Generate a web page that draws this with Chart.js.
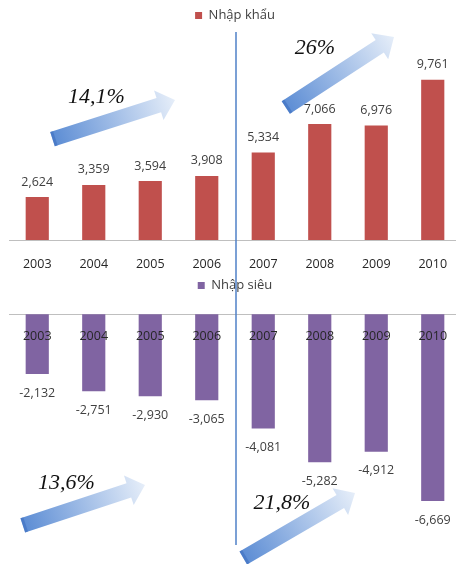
<!DOCTYPE html>
<html>
<head>
<meta charset="utf-8">
<script src="https://cdn.jsdelivr.net/npm/chart.js@4/dist/chart.umd.min.js"></script>
<style>
html, body { margin: 0; padding: 0; background: #fff; overflow: hidden; width: 456px; height: 564px; }
#top { position: absolute; left: 0; top: 0; }
#bottom { position: absolute; left: 0; top: 272px; }
</style>
</head>
<body>
<canvas id="top" width="466" height="291"></canvas>
<canvas id="bottom" width="466" height="292"></canvas>
<script>
const years = ["2003", "2004", "2005", "2006", "2007", "2008", "2009", "2010"];
const importValues = [2624, 3359, 3594, 3908, 5334, 7066, 6976, 9761];
const deficitValues = [-2132, -2751, -2930, -3065, -4081, -5282, -4912, -6669];
const growthTop = ["14,1%", "26%"];
const growthBottom = ["13,6%", "21,8%"];

const FONT = "'Open Sans', sans-serif";

// mui ten tang truong (toa do theo trang)
function drawArrow(ctx, a, offY) {
    const x0 = a.from[0], y0 = a.from[1] - offY;
    const x1 = a.to[0], y1 = a.to[1] - offY;
    const len = Math.hypot(x1 - x0, y1 - y0);
    ctx.save();
    ctx.translate(x0, y0);
    ctx.rotate(Math.atan2(y1 - y0, x1 - x0));
    const g = ctx.createLinearGradient(0, 0, len, 0);
    g.addColorStop(0, "#5b8cd4");
    g.addColorStop(1, "#e6eef9");
    ctx.fillStyle = g;
    const sw = 7.5, hw = 15.5, hl = 17;
    ctx.beginPath();
    ctx.moveTo(0, -sw);
    ctx.lineTo(len - hl, -sw);
    ctx.lineTo(len - hl, -hw);
    ctx.lineTo(len, 0);
    ctx.lineTo(len - hl, hw);
    ctx.lineTo(len - hl, sw);
    ctx.lineTo(0, sw);
    ctx.closePath();
    ctx.fill();
    ctx.fillStyle = "rgba(60,110,190,0.55)";
    ctx.fillRect(0, -sw, 3, sw * 2);
    ctx.restore();
}

const decorPlugin = {
    id: "decor",
    afterDraw(chart, args, opts) {
        const ctx = chart.ctx;
        // duong ke doc
        ctx.save();
        ctx.strokeStyle = "#4f81c7";
        ctx.lineWidth = 1.5;
        ctx.beginPath();
        ctx.moveTo(236, opts.lineFrom);
        ctx.lineTo(236, opts.lineTo);
        ctx.stroke();
        ctx.restore();
        opts.arrows.forEach(a => drawArrow(ctx, a, opts.offY));
        ctx.save();
        ctx.font = "italic 22px 'Liberation Serif', serif";
        ctx.fillStyle = "#111";
        ctx.textAlign = "center";
        ctx.textBaseline = "middle";
        opts.texts.forEach(t => ctx.fillText(t.text, t.x, t.y - opts.offY));
        ctx.restore();
    }
};

const valueLabels = {
    id: "valueLabels",
    afterDatasetsDraw(chart) {
        const ctx = chart.ctx;
        const ds = chart.data.datasets[0];
        ctx.save();
        ctx.font = "12.5px " + FONT;
        ctx.fillStyle = "#404040";
        ctx.textAlign = "center";
        ctx.textBaseline = "middle";
        chart.getDatasetMeta(0).data.forEach((bar, i) => {
            const v = ds.data[i];
            const y = v >= 0 ? bar.y - 15 : bar.y + 19;
            ctx.fillText(v.toLocaleString("en-US"), bar.x, y);
        });
        ctx.restore();
    }
};

function baseOptions(yMin, yMax, legendPad, xPos, padBottom, tickPad) {
    return {
        responsive: false,
        devicePixelRatio: 1,
        animation: false,
        layout: { padding: { left: 9, right: 5, top: 0, bottom: padBottom } },
        plugins: {
            legend: {
                position: "top",
                labels: {
                    boxWidth: 7, boxHeight: 7, padding: legendPad,
                    color: "#404040",
                    font: { family: FONT, size: 13 }
                }
            },
            tooltip: { enabled: false }
        },
        scales: {
            x: {
                position: xPos,
                grid: { display: false, drawTicks: false },
                border: { display: true, color: "#bfbfbf", width: 1 },
                ticks: { z: 1, padding: tickPad, color: "#262626", font: { family: FONT, size: 12.5 }, maxRotation: 0 }
            },
            y: { display: false, min: yMin, max: yMax }
        }
    };
}

const topOpts = baseOptions(0, 12677, 9, "bottom", 2, 17);
topOpts.plugins.decor = {
    offY: 0, lineFrom: 32, lineTo: 272,
    arrows: [
        { from: [52.5, 139.2], to: [175, 100] },
        { from: [285.8, 107.5], to: [394, 37] }
    ],
    texts: [
        { text: growthTop[0], x: 96.5, y: 97 },
        { text: growthTop[1], x: 315, y: 48 }
    ]
};

new Chart(document.getElementById("top"), {
    type: "bar",
    data: {
        labels: years,
        datasets: [{
            label: "Nhập khẩu",
            data: importValues,
            backgroundColor: "#c0504d",
            categoryPercentage: 1,
            barPercentage: 0.41
        }]
    },
    options: topOpts,
    plugins: [valueLabels, decorPlugin]
});

const bottomOpts = baseOptions(-8916, 440, 7, { y: 0 }, 0, 15);
bottomOpts.plugins.decor = {
    offY: 272, lineFrom: 0, lineTo: 273,
    arrows: [
        { from: [22.8, 525.3], to: [145, 485] },
        { from: [243.3, 558], to: [355, 493] }
    ],
    texts: [
        { text: growthBottom[0], x: 66.5, y: 483 },
        { text: growthBottom[1], x: 282, y: 503 }
    ]
};

new Chart(document.getElementById("bottom"), {
    type: "bar",
    data: {
        labels: years,
        datasets: [{
            label: "Nhập siêu",
            data: deficitValues,
            backgroundColor: "#8064a2",
            categoryPercentage: 1,
            barPercentage: 0.41
        }]
    },
    options: bottomOpts,
    plugins: [valueLabels, decorPlugin]
});
</script>
</body>
</html>
